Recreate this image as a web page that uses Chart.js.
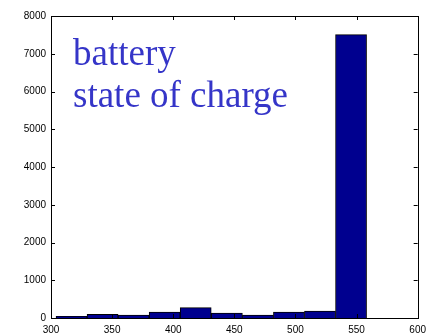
<!DOCTYPE html>
<html>
<head>
<meta charset="utf-8">
<script src="https://cdn.jsdelivr.net/npm/chart.js@4/dist/chart.umd.min.js"></script>
<style>
  html, body { margin: 0; padding: 0; background: #fff; }
  #wrap { width: 432px; height: 333px; }
</style>
</head>
<body>
<div id="wrap"><canvas id="c" width="432" height="333"></canvas></div>
<script>
// Histogram of battery state of charge: bin centres and counts
const binCenters = [316.8, 342.2, 367.6, 393.0, 418.4, 443.9, 469.3, 494.7, 520.1, 545.5];
const counts = [45, 98, 80, 160, 273, 132, 80, 160, 185, 7505];
const xTicks = [300, 350, 400, 450, 500, 550, 600];
const yTicks = [0, 1000, 2000, 3000, 4000, 5000, 6000, 7000, 8000];
const titleLines = ['battery', 'state of charge'];

// Box frame with inward tick marks on all four sides, plus the caption
const framePlugin = {
  id: 'frame',
  afterDraw(chart) {
    const { ctx, chartArea: a, scales: { x, y } } = chart;
    const tl = 4;
    ctx.save();
    ctx.strokeStyle = '#000';
    ctx.lineWidth = 1;
    ctx.strokeRect(Math.round(a.left) + 0.5, Math.round(a.top) + 0.5,
      Math.round(a.right - a.left), Math.round(a.bottom - a.top));
    ctx.beginPath();
    xTicks.forEach(v => {
      const px = Math.round(x.getPixelForValue(v)) + 0.5;
      ctx.moveTo(px, a.bottom); ctx.lineTo(px, a.bottom - tl);
      ctx.moveTo(px, a.top); ctx.lineTo(px, a.top + tl);
    });
    yTicks.forEach(v => {
      const py = Math.round(y.getPixelForValue(v)) + 0.5;
      ctx.moveTo(a.left, py); ctx.lineTo(a.left + tl, py);
      ctx.moveTo(a.right, py); ctx.lineTo(a.right - tl, py);
    });
    ctx.stroke();

    ctx.fillStyle = '#3535c8';
    ctx.font = '37px "Liberation Serif", "Times New Roman", serif';
    ctx.textAlign = 'left';
    ctx.textBaseline = 'alphabetic';
    const tx = x.getPixelForValue(318);
    ctx.fillText(titleLines[0], tx, y.getPixelForValue(6700));
    ctx.fillText(titleLines[1], tx, y.getPixelForValue(5590));
    ctx.restore();
  }
};

const plainLabel = v => String(v);

new Chart(document.getElementById('c'), {
  type: 'bar',
  data: {
    datasets: [{
      data: binCenters.map((c, i) => ({ x: c, y: counts[i] })),
      backgroundColor: '#00008f',
      borderColor: '#000',
      borderWidth: 1,
      barPercentage: 1,
      categoryPercentage: 1
    }]
  },
  options: {
    responsive: false,
    animation: false,
    layout: { padding: { top: 16, right: 13, left: 0, bottom: 0 } },
    plugins: { legend: { display: false }, tooltip: { enabled: false } },
    scales: {
      x: {
        type: 'linear',
        offset: false,
        min: 300, max: 600,
        grid: { display: false, offset: false, drawTicks: false },
        border: { display: false },
        afterBuildTicks: s => { s.ticks = xTicks.map(v => ({ value: v })); },
        afterFit: s => { s.height = 15; },
        ticks: {
          padding: 6,
          color: '#000',
          maxRotation: 0,
          autoSkip: false,
          callback: plainLabel,
          font: { family: '"Liberation Sans", Arial, sans-serif', size: 10 }
        }
      },
      y: {
        min: 0, max: 8000,
        grid: { display: false, drawTicks: false },
        border: { display: false },
        afterBuildTicks: s => { s.ticks = yTicks.map(v => ({ value: v })); },
        afterFit: s => { s.width = 51; },
        ticks: {
          padding: 5,
          color: '#000',
          autoSkip: false,
          callback: plainLabel,
          font: { family: '"Liberation Sans", Arial, sans-serif', size: 10 }
        }
      }
    }
  },
  plugins: [framePlugin]
});
</script>
</body>
</html>
